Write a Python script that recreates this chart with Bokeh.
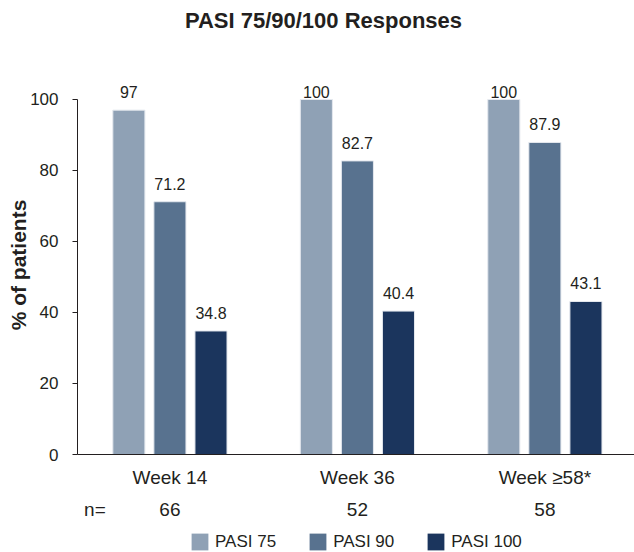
from bokeh.plotting import figure
from bokeh.layouts import column
from bokeh.core.properties import value
from bokeh.models import (ColumnDataSource, FixedTicker, LinearAxis, Legend, LegendItem,
                          Range1d, LabelSet, Label)
from bokeh.embed import file_html
from bokeh.resources import INLINE
import numpy as np

# ---- data ----
title = "PASI 75/90/100 Responses"
weeks = ["Week 14", "Week 36", "Week \u226558*"]
n_values = ["66", "52", "58"]
series_names = ["PASI 75", "PASI 90", "PASI 100"]
pasi75 = [97, 100, 100]
pasi90 = [71.2, 82.7, 87.9]
pasi100 = [34.8, 40.4, 43.1]
y_ticks = [0, 20, 40, 60, 80, 100]

# ---- style / layout ----
colors = ["#8fa1b5", "#58728f", "#1b355d"]
FONT = "Liberation Sans"
TXT = "#231f20"
BAR_W = 0.171
OFFSETS = [-0.219, 0.0, 0.219]
N_LABEL_X = -0.40
X_RANGE = (-0.493, 2.478)
TITLE_H = 40
LEG_H = 30
MAIN_H = 552 - TITLE_H - LEG_H

x = np.arange(len(weeks))

# ---- title strip ----
pt = figure(width=634, height=TITLE_H, output_backend="svg", toolbar_location=None,
            x_range=Range1d(*X_RANGE), y_range=Range1d(0, 1),
            min_border=0, x_axis_type=None, y_axis_type=None)
pt.grid.visible = False
pt.outline_line_color = None
pt.add_layout(Label(x=0.819, y=0.5, text=title, text_font=FONT, text_font_size="22px",
                    text_font_style="bold", text_color=TXT, text_align="center",
                    text_baseline="middle"))

# ---- main chart ----
p = figure(width=634, height=MAIN_H, output_backend="svg", toolbar_location=None,
           x_range=Range1d(*X_RANGE), y_range=Range1d(0, 106.76),
           min_border_left=77, min_border_right=0, min_border_top=75 - TITLE_H,
           min_border_bottom=TITLE_H + MAIN_H - 454,
           x_axis_type=None, y_axis_type=None)
p.grid.visible = False
p.outline_line_color = None
p.background_fill_color = "white"
p.border_fill_color = "white"

# y axis
yaxis = LinearAxis(bounds=(0, 100), ticker=FixedTicker(ticks=y_ticks))
yaxis.axis_label = "% of patients"
yaxis.axis_label_text_font = FONT
yaxis.axis_label_text_font_size = "21px"
yaxis.axis_label_text_font_style = "bold"
yaxis.axis_label_text_color = TXT
yaxis.axis_label_standoff = -3
yaxis.major_label_text_font = FONT
yaxis.major_label_text_font_size = "17px"
yaxis.major_label_text_color = TXT
yaxis.major_label_standoff = 14
yaxis.major_tick_out = 5
yaxis.major_tick_in = 0
yaxis.minor_tick_line_color = None
yaxis.axis_line_color = TXT
yaxis.major_tick_line_color = TXT
p.add_layout(yaxis, "left")

# x axis (week labels)
xaxis = LinearAxis(ticker=FixedTicker(ticks=list(x)))
xaxis.major_label_overrides = {int(i): w for i, w in zip(x, weeks)}
xaxis.major_label_text_font = FONT
xaxis.major_label_text_font_size = "19px"
xaxis.major_label_text_color = TXT
xaxis.major_label_standoff = 12
xaxis.major_tick_out = 0
xaxis.major_tick_in = 0
xaxis.major_tick_line_color = None
xaxis.minor_tick_line_color = None
xaxis.axis_line_color = TXT
p.add_layout(xaxis, "below")

# n row
naxis = LinearAxis(ticker=FixedTicker(ticks=[N_LABEL_X] + list(x)))
overrides = {N_LABEL_X: "n="}
overrides.update({int(i): n for i, n in zip(x, n_values)})
naxis.major_label_overrides = overrides
naxis.major_label_text_font = FONT
naxis.major_label_text_font_size = "19px"
naxis.major_label_text_color = TXT
naxis.major_label_standoff = 8
naxis.major_tick_out = 0
naxis.major_tick_in = 0
naxis.major_tick_line_color = None
naxis.minor_tick_line_color = None
naxis.axis_line_color = None
p.add_layout(naxis, "below")

# ---- legend strip (frames aligned by the column layout) ----
pl = figure(width=634, height=LEG_H, output_backend="svg", toolbar_location=None,
            x_range=Range1d(*X_RANGE), y_range=Range1d(0, 1),
            min_border=0, x_axis_type=None, y_axis_type=None)
pl.grid.visible = False
pl.outline_line_color = None

items = []
for vals, name, col, off in zip([pasi75, pasi90, pasi100], series_names, colors, OFFSETS):
    src = ColumnDataSource(dict(
        x=x + off,
        top=vals,
        label=[("%g" % v) for v in vals],
        ly=np.minimum(vals, 97),
    ))
    p.vbar(x="x", top="top", width=BAR_W, bottom=0, source=src,
           fill_color=col, line_color="#e4e8ee", line_width=1)
    lab = LabelSet(x="x", y="ly", text="label", source=src, text_font=value(FONT),
                   text_font_size="16px", text_color=TXT, text_align="center",
                   text_baseline="bottom", y_offset=12)
    p.add_layout(lab)
    # zero-width proxy of the same series, only used to draw the legend swatch
    r = pl.vbar(x="x", top="top", width=0, bottom=0, source=src,
                fill_color=col, line_color=None)
    items.append(LegendItem(label=name, renderers=[r]))

legend = Legend(items=items, orientation="horizontal", location=(112, 0),
                glyph_width=21, glyph_height=21, label_standoff=5, spacing=31,
                padding=0, margin=0, border_line_color=None, background_fill_alpha=0,
                label_text_font=FONT, label_text_font_size="17px", label_text_color=TXT)
pl.add_layout(legend)

open("out.html", "w").write(file_html(column(pt, p, pl, spacing=0), INLINE))
